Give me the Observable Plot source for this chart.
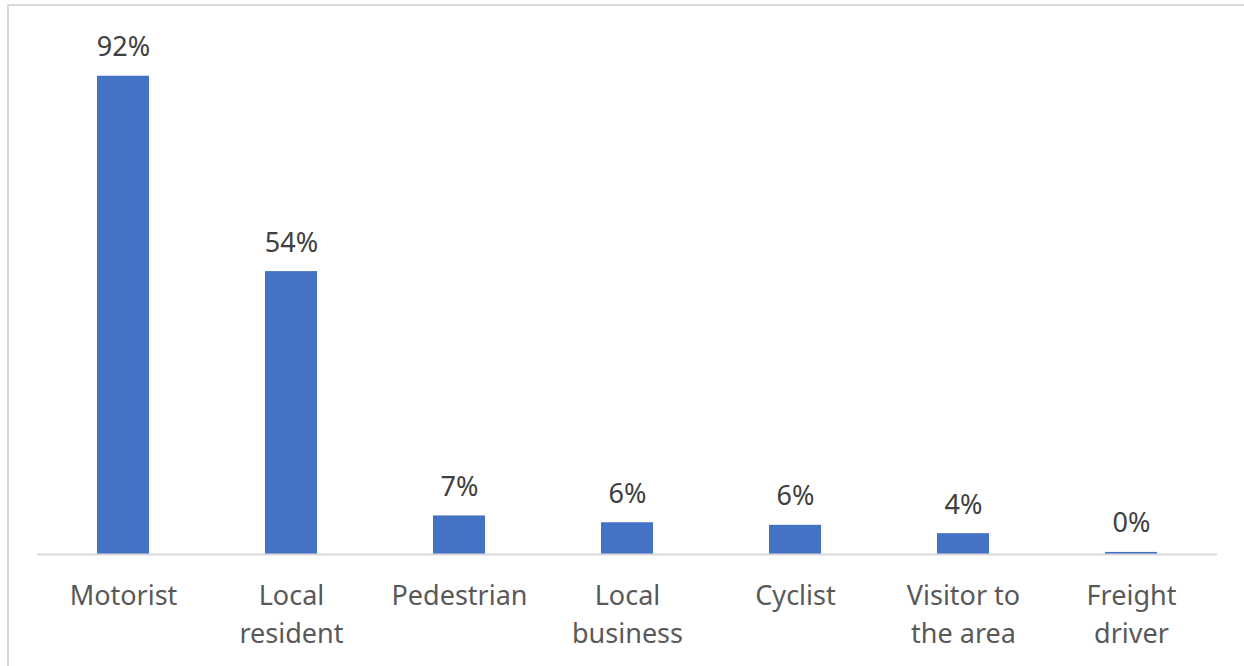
<!DOCTYPE html>
<html>
<head>
<meta charset="utf-8">
<script src="https://cdn.jsdelivr.net/npm/d3@7"></script>
<script src="https://cdn.jsdelivr.net/npm/@observablehq/plot@0.6"></script>
<style>
  html, body { margin: 0; padding: 0; background: #fff; overflow: hidden; }
  #wrap { position: relative; width: 1244px; height: 666px; }
  #border { position: absolute; left: 7px; top: 4px; width: 1260px; height: 680px; border: 2px solid #d9d9d9; box-sizing: border-box; pointer-events: none; }
  #chart svg { display: block; }
</style>
</head>
<body>
<div id="wrap">
  <div id="chart"></div>
  <div id="border"></div>
</div>
<script>
const categories = ["Motorist", "Local resident", "Pedestrian", "Local business", "Cyclist", "Visitor to the area", "Freight driver"];
const categoryLabels = ["Motorist", "Local\nresident", "Pedestrian", "Local\nbusiness", "Cyclist", "Visitor to\nthe area", "Freight\ndriver"];
const values = [91.8, 54.3, 7.4, 6.1, 5.6, 4.0, 0.4];

const data = categories.map((c, i) => ({
  category: c,
  label: categoryLabels[i],
  value: values[i],
  valueLabel: Math.round(values[i]) + "%"
}));

const chart = Plot.plot({
  width: 1244,
  height: 666,
  marginLeft: 37,
  marginRight: 27,
  marginTop: 33,
  marginBottom: 112,
  style: { fontFamily: "'Noto Sans', sans-serif", background: "transparent" },
  x: { domain: categories, paddingInner: 0.69, paddingOuter: 0.345, axis: null },
  y: { domain: [0, 100], axis: null },
  marks: [
    Plot.barY(data, { x: "category", y: "value", fill: "#4472c4" }),
    Plot.ruleY([0], { stroke: "#d9d9d9", strokeWidth: 2 }),
    Plot.text(data, {
      x: "category", y: "value", text: "valueLabel",
      lineAnchor: "bottom", dy: -20, fontSize: 27, fill: "#404040"
    }),
    Plot.text(data, {
      x: "category", text: "label", frameAnchor: "bottom",
      lineAnchor: "top", dy: 23, fontSize: 27, lineHeight: 1.42, fill: "#595959"
    })
  ]
});
document.getElementById("chart").appendChild(chart);
</script>
</body>
</html>
